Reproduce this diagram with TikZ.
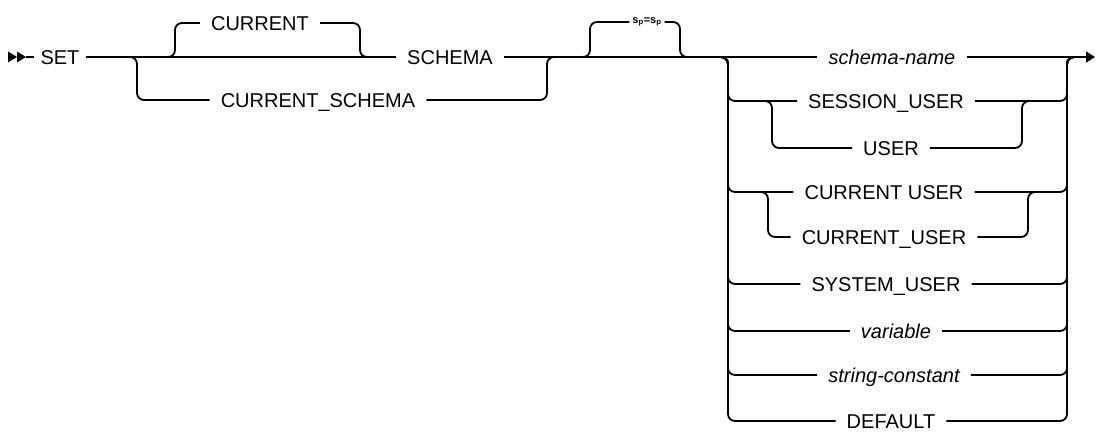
\documentclass[tikz,border=0pt]{standalone}
\usepackage{fontspec}
\setmainfont{Liberation Sans}
\usetikzlibrary{arrows.meta}
\tikzset{
  rail/.style={line width=1.8pt, rounded corners=7pt},
  txt/.style={font=\fontsize{20}{22}\selectfont, inner xsep=11pt, inner ysep=0pt, text height=14pt, text depth=0pt},
  itx/.style={txt, font=\fontsize{20}{22}\selectfont\itshape},
}
\begin{document}
\begin{tikzpicture}[x=1pt,y=-1pt]
\useasboundingbox (0,0) rectangle (1099,432);
% nodes
\node[txt, inner xsep=6pt] (SET) at (60,57) {SET};
\node[txt] (cur) at (260,23) {CURRENT};
\node[txt] (sch) at (450,57) {SCHEMA};
\node[txt] (cs) at (318,100) {CURRENT\_SCHEMA};
\node[inner xsep=3pt, inner ysep=0pt, font=\fontsize{11}{11}\selectfont\bfseries] (eq) at (647,22) {s\textsubscript{p}=s\textsubscript{p}};
\node[itx] (sn) at (892,57) {schema-name};
\node[txt] (su) at (886,101) {SESSION\_USER};
\node[txt] (us) at (891,148) {USER};
\node[txt] (cu1) at (884,192) {CURRENT USER};
\node[txt] (cu2) at (884,237) {CURRENT\_USER};
\node[txt] (sy) at (886,284) {SYSTEM\_USER};
\node[itx] (va) at (896,331) {variable};
\node[itx] (sc) at (894,375) {string-constant};
\node[txt] (de) at (891,421) {DEFAULT};
% coordinates
\coordinate (s1) at (26,57);
\coordinate (a1) at (165,57); \coordinate (a2) at (175,57);
\coordinate (b2) at (360,57); \coordinate (b1) at (370,57);
\coordinate (d1) at (127,57); \coordinate (d2) at (137,57);
\coordinate (e2) at (547,57); \coordinate (e1) at (557,57);
\coordinate (f1) at (580,57); \coordinate (f2) at (590,57);
\coordinate (g2) at (680,57); \coordinate (g1) at (690,57);
\coordinate (jL) at (718,57); \coordinate (vL) at (728,57);
\coordinate (vR) at (1067,57); \coordinate (jR) at (1077,57);
\coordinate (sj) at (762,101); \coordinate (sv) at (772,101);
\coordinate (tv) at (1022,101); \coordinate (tj) at (1032,101);
\coordinate (cj) at (758,192); \coordinate (cv) at (768,192);
\coordinate (uv) at (1028,192); \coordinate (uj) at (1038,192);
\coordinate (endc) at (1095,57);
% start arrows
\fill (8,51.5) -- (17,57) -- (8,62.5) -- cycle;
\fill (17,51.5) -- (26,57) -- (17,62.5) -- cycle;
\draw[rail] (s1) -- (SET.west);
% main line
\draw[rail] (SET.east) -- (sch.west);
\draw[rail] (sch.east) -- (sn.west);
\draw[rail, -{Triangle[length=9pt,width=11pt]}] (sn.east) -- (endc);
% CURRENT loop
\draw[rail] (a1) -- (a2) -- (a2 |- cur.west) -- (cur.west);
\draw[rail] (cur.east) -- (b2 |- cur.east) -- (b2) -- (b1);
% CURRENT_SCHEMA branch
\draw[rail] (d1) -- (d2) -- (d2 |- cs.west) -- (cs.west);
\draw[rail] (cs.east) -- (e2 |- cs.east) -- (e2) -- (e1);
% = loop
\draw[rail] (f1) -- (f2) -- (f2 |- eq.west) -- (eq.west);
\draw[rail] (eq.east) -- (g2 |- eq.east) -- (g2) -- (g1);
% options
\foreach \o in {su,cu1,sy,va,sc,de}{
  \draw[rail] (jL) -- (vL) -- (vL |- \o.west) -- (\o.west);
  \draw[rail] (\o.east) -- (vR |- \o.east) -- (vR) -- (jR);
}
% nested
\draw[rail] (sj) -- (sv) -- (sv |- us.west) -- (us.west);
\draw[rail] (us.east) -- (tv |- us.east) -- (tv) -- (tj);
\draw[rail] (cj) -- (cv) -- (cv |- cu2.west) -- (cu2.west);
\draw[rail] (cu2.east) -- (uv |- cu2.east) -- (uv) -- (uj);
\end{tikzpicture}
\end{document}
